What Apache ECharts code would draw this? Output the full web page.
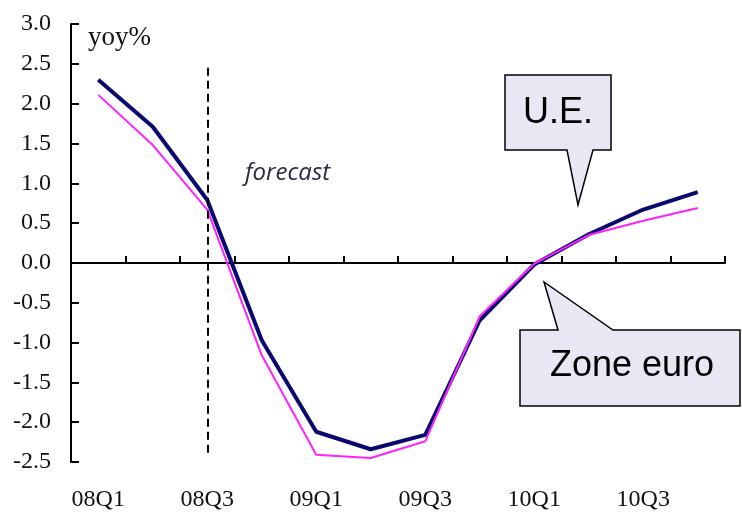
<!DOCTYPE html>
<html>
<head>
<meta charset="utf-8">
<script src="https://cdn.jsdelivr.net/npm/echarts@6/dist/echarts.min.js"></script>
<style>html,body{margin:0;padding:0;background:#fff}#c{width:742px;height:512px}</style>
</head>
<body>
<div id="c"></div>
<script>
var categories = ['08Q1','08Q2','08Q3','08Q4','09Q1','09Q2','09Q3','09Q4','10Q1','10Q2','10Q3','10Q4'];
var ueValues   = [2.30, 1.71, 0.79, -0.97, -2.12, -2.34, -2.16, -0.72, -0.02, 0.36, 0.67, 0.89];
var zoneValues = [2.11, 1.48, 0.67, -1.16, -2.41, -2.45, -2.24, -0.67, -0.01, 0.35, 0.53, 0.69];
var forecastStart = '08Q3';
var yMin = -2.5, yMax = 3.0, yStep = 0.5;

var chart = echarts.init(document.getElementById('c'), null, {renderer: 'canvas'});
var txt = '#111';
var serif = '"Liberation Serif", "Times New Roman", serif';
var balloonFill = '#e8e8f4';

chart.setOption({
  animation: false,
  backgroundColor: '#fff',
  grid: {left: 71, right: 17, top: 24, bottom: 50, containLabel: false},
  xAxis: [{
    type: 'category',
    data: categories,
    boundaryGap: true,
    axisLine: {onZero: true, lineStyle: {color: '#000', width: 2}},
    axisTick: {show: true, inside: true, length: 7, interval: 0, lineStyle: {color: '#000', width: 2}},
    axisLabel: {show: false},
    splitLine: {show: false}
  }, {
    type: 'category',
    data: categories,
    position: 'bottom',
    boundaryGap: true,
    axisLine: {show: false, onZero: false},
    axisTick: {show: false},
    axisLabel: {show: true, interval: 1, color: txt, fontFamily: serif, fontSize: 24, margin: 26},
    splitLine: {show: false}
  }],
  yAxis: {
    type: 'value',
    min: yMin, max: yMax, interval: yStep,
    axisLine: {show: true, lineStyle: {color: '#000', width: 2}},
    axisTick: {show: true, inside: true, length: 8, lineStyle: {color: '#000', width: 2}},
    axisLabel: {color: txt, fontFamily: serif, fontSize: 24, margin: 20,
      formatter: function (v) { return v.toFixed(1); }},
    splitLine: {show: false}
  },
  series: [{
    name: 'U.E.',
    type: 'line',
    data: ueValues,
    symbol: 'none',
    lineStyle: {color: '#0a0a6e', width: 4},
    z: 3,
    markLine: {
      silent: true,
      symbol: 'none',
      label: {show: false},
      lineStyle: {color: '#000', width: 2, type: [8, 5]},
      data: [[{coord: [forecastStart, 2.45]}, {coord: [forecastStart, -2.4]}]]
    }
  }, {
    name: 'Zone euro',
    type: 'line',
    data: zoneValues,
    symbol: 'none',
    lineStyle: {color: '#ff22ff', width: 2},
    z: 4
  }],
  graphic: [
    {type: 'text', left: 88, top: 24, style: {text: 'yoy%', fill: txt, font: '27px ' + serif}},
    {type: 'text', left: 245, top: 161, style: {text: 'forecast', fill: '#2a2a40', font: 'italic 24px "Open Sans", sans-serif'}},
    {type: 'polygon', shape: {points: [[505,75],[611,75],[611,150],[593,150],[578,205],[567,150],[505,150]]},
      style: {fill: balloonFill, stroke: '#000', lineWidth: 1.5}, z: 10},
    {type: 'text', x: 558, y: 113, style: {text: 'U.E.', fill: '#000', font: '36px Arial, "Liberation Sans", sans-serif', textAlign: 'center', textVerticalAlign: 'middle'}, z: 11},
    {type: 'polygon', shape: {points: [[520,330],[558,330],[544,282],[613,330],[740,330],[740,406],[520,406]]},
      style: {fill: balloonFill, stroke: '#000', lineWidth: 1.5}, z: 10},
    {type: 'text', x: 632, y: 366, style: {text: 'Zone euro', fill: '#000', font: '36px Arial, "Liberation Sans", sans-serif', textAlign: 'center', textVerticalAlign: 'middle'}, z: 11}
  ]
});
</script>
</body>
</html>
